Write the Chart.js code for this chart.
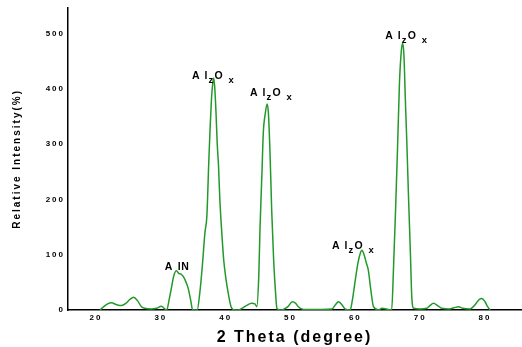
<!DOCTYPE html>
<html>
<head>
<meta charset="utf-8">
<script src="https://cdn.jsdelivr.net/npm/chart.js@4/dist/chart.umd.min.js"></script>
<style>
html,body{margin:0;padding:0;background:#fff;}
#wrap{width:522px;height:347px;position:relative;}
</style>
</head>
<body>
<div id="wrap"><canvas id="c"></canvas></div>
<script>
// ---- data ----
const twoTheta = [20.6,21.2,21.8,22.4,23.1,23.9,24.6,25.2,25.8,26.4,27.0,27.5,28.5,29.3,30.1,30.6,30.9,31.3,31.6,32.0,32.4,32.8,33.1,33.5,33.9,34.2,34.6,34.9,35.6,36.0,36.4,36.8,37.1,37.4,37.6,37.8,38.0,38.15,38.3,38.5,38.7,38.9,39.1,39.4,39.7,40.0,40.4,40.9,41.5,42.0,42.5,43.2,44.0,44.5,44.8,45.1,45.3,45.6,45.8,46.1,46.4,46.6,46.85,47.1,47.4,47.7,47.9,48.4,48.9,49.6,50.3,50.8,51.2,51.7,52.5,56.4,56.9,57.4,57.9,58.4,59.2,59.5,60.0,60.4,60.8,61.0,61.3,61.7,62.0,62.4,62.8,63.6,64.1,65.1,65.6,65.9,66.2,66.5,66.8,67.1,67.3,67.5,67.7,67.95,68.2,68.5,68.7,69.0,70.0,71.0,71.5,72.05,72.7,73.35,74.5,75.2,75.9,76.6,77.7,78.5,79.1,79.5,80.0,80.4,80.8];
const intensity = [0,6,11,13,10,8,12,19,23,17,6,3,2,3,7,2,0,20,38,62,71,66,65,60,50,40,18,0,0,30,80,140,170,270,330,380,410,420,405,360,300,260,200,140,90,60,30,4,0,0,3,8,12,11,6,60,150,250,320,355,373,355,280,180,90,30,3,0,1,6,15,12,6,2,1,2,9,15,10,2,0,15,55,85,104,108,102,85,72,35,6,0,3,1,0,80,180,290,410,470,483,460,385,300,205,100,25,3,2,3,8,12,8,3,2,4,6,3,2,10,19,21,15,6,0];
const xTicks = [20,30,40,50,60,70,80];
const yTicks = [0,100,200,300,400,500];
// peak labels: text, anchor (2θ, intensity) of label's left/baseline
const peakText = ['AlN','AlzOx','AlzOx','AlzOx','AlzOx'];
const peakX = [30.6,34.8,43.75,56.4,64.6];
const peakY = [73,419,388,111,491];
const xTitle = '2 Theta (degree)';
const yTitle = 'Relative Intensity(%)';

const LABEL_FONT = 'bold 10.5px "Liberation Sans", Arial, sans-serif';
const SUB_FONT = 'bold 9.5px "Liberation Sans", Arial, sans-serif';
const layouts = {
  'AlN':   [['A',0,0,0],['l',13,0,0],['N',16.5,0,0]],
  'AlzOx': [['A',0,0,0],['l',12.5,0,0],['z',16.5,4,1],['O',22.5,0,0],['x',36.5,4,1]]
};

const spacingPlugin = {
  id:'spacing',
  beforeDraw(chart){ chart.ctx.letterSpacing = '2px'; }
};
const labelPlugin = {
  id:'peakLabels',
  afterDatasetsDraw(chart){
    const ctx = chart.ctx, xs = chart.scales.x, ys = chart.scales.y;
    ctx.save();
    ctx.letterSpacing = '0px';
    ctx.fillStyle = '#000';
    ctx.textBaseline = 'alphabetic';
    ctx.textAlign = 'left';
    peakText.forEach((t,i)=>{
      const px = xs.getPixelForValue(peakX[i]);
      const py = ys.getPixelForValue(peakY[i]);
      layouts[t].forEach(([ch,dx,dy,sub])=>{
        ctx.font = sub ? SUB_FONT : LABEL_FONT;
        ctx.fillText(ch, px+dx, py+dy);
      });
    });
    ctx.restore();
  }
};

new Chart(document.getElementById('c'), {
  type:'line',
  data:{
    datasets:[{
      data: twoTheta.map((x,i)=>({x:x,y:intensity[i]})),
      borderColor:'#22992a',
      borderWidth:1.5,
      pointRadius:0,
      fill:false,
      cubicInterpolationMode:'monotone'
    }]
  },
  options:{
    responsive:true,
    maintainAspectRatio:false,
    animation:false,
    layout:{padding:{top:7,right:1,left:0,bottom:0}},
    plugins:{legend:{display:false},tooltip:{enabled:false}},
    scales:{
      x:{
        type:'linear',
        min:15.68, max:85.55,
        afterBuildTicks(s){ s.ticks = xTicks.map(v=>({value:v})); },
        afterFit(s){ s.height = 37; },
        grid:{display:false, drawTicks:false},
        border:{display:true,color:'#000',width:1.5},
        ticks:{color:'#000',padding:3,maxRotation:0,font:{family:'"Liberation Sans", Arial, sans-serif',size:8,weight:'bold'},callback:v=>String(v)},
        title:{display:true,text:xTitle,color:'#000',padding:{top:0,bottom:0},font:{family:'"Liberation Sans", Arial, sans-serif',size:16,weight:'bold'}}
      },
      y:{
        min:0, max:547,
        afterBuildTicks(s){ s.ticks = yTicks.map(v=>({value:v})); },
        afterFit(s){ s.width = 68; },
        grid:{display:false, drawTicks:false},
        border:{display:true,color:'#000',width:1.5},
        ticks:{color:'#000',padding:3,font:{family:'"Liberation Sans", Arial, sans-serif',size:8,weight:'bold'},callback:v=>String(v)},
        title:{display:true,text:yTitle,color:'#000',padding:{top:11.5,bottom:0},font:{family:'"Liberation Sans", Arial, sans-serif',size:10,weight:'bold'}}
      }
    }
  },
  plugins:[spacingPlugin,labelPlugin]
});
</script>
</body>
</html>
